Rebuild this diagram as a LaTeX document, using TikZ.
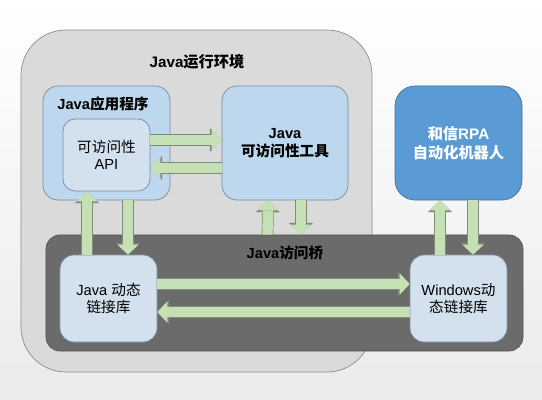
\documentclass[tikz,border=0pt]{standalone}
\usepackage{fontspec}
\setmainfont{Liberation Sans}
\newfontfamily\cjk{Noto Sans CJK SC}
\usepackage{tikz}
\usetikzlibrary{calc,arrows.meta}

\definecolor{envfill}{HTML}{DADADA}
\definecolor{envedge}{HTML}{8E8E8E}
\definecolor{appfill}{HTML}{BDD7EE}
\definecolor{appedge}{HTML}{7C8C9C}
\definecolor{apifill}{HTML}{D3E0ED}
\definecolor{rpafill}{HTML}{5B9BD5}
\definecolor{rpaedge}{HTML}{41719C}
\definecolor{bridgefill}{HTML}{6B6B6B}
\definecolor{bridgeedge}{HTML}{555555}
\definecolor{arrowgreen}{HTML}{C5E0B4}
\definecolor{arrowedge}{HTML}{808C78}

\begin{document}
\begin{tikzpicture}[x=0.03cm, y=-0.03cm,
  box/.style={draw=appedge, line width=0.6pt, align=center, inner sep=0pt,
    font=\fontsize{12.5}{15}\selectfont},
  fat/.style={draw=arrowgreen, line width=0.31cm,
    -{Triangle[width=0.64cm,length=0.3cm,line width=0pt]},
    preaction={draw=arrowedge, line width=0.31cm+1.2pt,
      -{Triangle[width=0.64cm+2.4pt,length=0.3cm+1.6pt,line width=0pt]}}}]
  \useasboundingbox (0,0) rectangle (542,400);
  \fill[top color=white, bottom color=black!8] (0,0) rectangle (542,400);
  % Java runtime
  \node[box, draw=envedge, fill=envfill, rounded corners=1.35cm,
    minimum width=10.53cm, minimum height=10.26cm] (jre) at (196.5,201) {};
  \node[font=\bfseries\fontsize{13}{15}\selectfont] (jretitle) at (197,62) {Java{\cjk 运行环境}};
  % application and API
  \node[box, fill=appfill, rounded corners=0.45cm,
    minimum width=3.81cm, minimum height=3.42cm] (app) at (106.5,143) {};
  \node[font=\bfseries\fontsize{12.5}{15}\selectfont] (apptitle) at (103,104) {Java{\cjk 应用程序}};
  \node[box, fill=apifill, rounded corners=0.36cm,
    minimum width=2.61cm, minimum height=2.16cm] (api) at (106.5,155) {{\cjk 可访问性}\\API};
  % tools
  \node[box, fill=appfill, rounded corners=0.45cm, font=\bfseries\fontsize{12.5}{15}\selectfont,
    minimum width=3.78cm, minimum height=3.42cm] (tool) at (285,143) {Java\\{\cjk 可访问性工具}};
  \node[box, draw=rpaedge, fill=rpafill, text=white, rounded corners=0.6cm,
    font=\bfseries\fontsize{13}{16}\selectfont,
    minimum width=3.81cm, minimum height=3.42cm] (rpa) at (458.5,143) {{\cjk 和信}RPA\\{\cjk 自动化机器人}};
  % access bridge
  \node[box, draw=bridgeedge, fill=bridgefill, rounded corners=0.42cm,
    minimum width=14.31cm, minimum height=3.48cm] (bridge) at (284.5,293) {};
  \node[font=\bfseries\fontsize{12.5}{15}\selectfont] (bridgetitle) at (285,253) {Java{\cjk 访问桥}};
  \node[box, fill=apifill, rounded corners=0.42cm,
    minimum width=2.91cm, minimum height=2.61cm] (jdll) at (108.5,298.5) {Java {\cjk 动态}\\{\cjk 链接库}};
  \node[box, fill=apifill, rounded corners=0.42cm,
    minimum width=2.91cm, minimum height=2.61cm] (wdll) at (458.5,298.5) {Windows{\cjk 动}\\{\cjk 态链接库}};
  % arrows
  \draw[fat] ($(api.east)+(0,-15)$) -- ($(tool.west)+(0,-3)$);
  \draw[fat] ($(tool.west)+(0,25)$) -- ($(api.east)+(0,13)$);
  \draw[fat] ($(jdll.north)+(-21.5,0)$) -- ($(api.south)+(-19.5,0)$);
  \draw[fat] ($(app.south)+(21.5,0)$) -- ($(jdll.north)+(19.5,0)$);
  \draw[fat] ($(bridge.north)+(-17,0)$) -- ($(tool.south)+(-17,0)$);
  \draw[fat] ($(tool.south)+(16,0)$) -- ($(bridge.north)+(16.5,0)$);
  \draw[fat] ($(jdll.east)+(0,-14.5)$) -- ($(wdll.west)+(0,-14.5)$);
  \draw[fat] ($(wdll.west)+(0,13.5)$) -- ($(jdll.east)+(0,13.5)$);
  \draw[fat] ($(wdll.north)+(-18.5,0)$) -- ($(rpa.south)+(-18.5,0)$);
  \draw[fat] ($(rpa.south)+(14.5,0)$) -- ($(wdll.north)+(14.5,0)$);
\end{tikzpicture}
\end{document}
